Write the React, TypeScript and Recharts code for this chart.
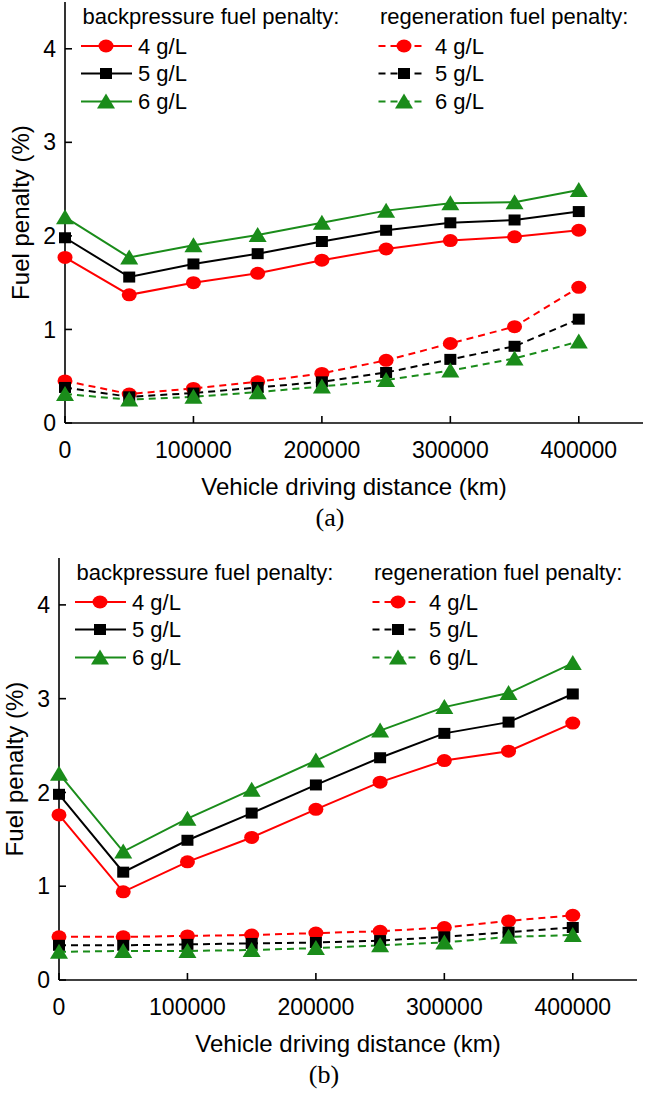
import React from "react";
import { LineChart, Line, XAxis, YAxis, Legend, Label } from "recharts";

// driving distance (km)
const distance = [0, 50000, 100000, 150000, 200000, 250000, 300000, 350000, 400000];

// panel (a): backpressure fuel penalty (%)
const backA4 = [1.77, 1.37, 1.5, 1.6, 1.74, 1.86, 1.95, 1.99, 2.06];
const backA5 = [1.98, 1.56, 1.7, 1.81, 1.94, 2.06, 2.14, 2.17, 2.26];
const backA6 = [2.2, 1.77, 1.9, 2.01, 2.14, 2.27, 2.35, 2.36, 2.49];
// panel (a): regeneration fuel penalty (%)
const regenA4 = [0.45, 0.31, 0.37, 0.44, 0.53, 0.67, 0.85, 1.03, 1.45];
const regenA5 = [0.38, 0.28, 0.32, 0.38, 0.44, 0.54, 0.68, 0.82, 1.11];
const regenA6 = [0.31, 0.25, 0.28, 0.33, 0.39, 0.46, 0.56, 0.69, 0.87];

// panel (b): backpressure fuel penalty (%)
const backB4 = [1.76, 0.94, 1.26, 1.52, 1.82, 2.11, 2.34, 2.44, 2.74];
const backB5 = [1.98, 1.15, 1.49, 1.78, 2.08, 2.37, 2.63, 2.75, 3.05];
const backB6 = [2.2, 1.37, 1.72, 2.03, 2.34, 2.66, 2.91, 3.06, 3.38];
// panel (b): regeneration fuel penalty (%)
const regenB4 = [0.46, 0.46, 0.47, 0.48, 0.5, 0.52, 0.56, 0.63, 0.69];
const regenB5 = [0.37, 0.37, 0.38, 0.39, 0.4, 0.42, 0.46, 0.51, 0.56];
const regenB6 = [0.3, 0.31, 0.31, 0.32, 0.34, 0.37, 0.4, 0.46, 0.48];

const loadings = ["4 g/L", "5 g/L", "6 g/L"];
const xMajor = [0, 100000, 200000, 300000, 400000];
const xMinor = [50000, 150000, 250000, 350000];
const yMajor = [0, 1, 2, 3, 4];
const yMinor = [0.5, 1.5, 2.5, 3.5];

const RED = "#ff0000";
const BLACK = "#000000";
const GREEN = "#1a8c1a";
const SANS = "'Liberation Sans', Arial, sans-serif";

type Shape = "circle" | "square" | "triangle";

const series: { key: string; color: string; shape: Shape; dashed: boolean }[] = [
  { key: "b4", color: RED, shape: "circle", dashed: false },
  { key: "b5", color: BLACK, shape: "square", dashed: false },
  { key: "b6", color: GREEN, shape: "triangle", dashed: false },
  { key: "r4", color: RED, shape: "circle", dashed: true },
  { key: "r5", color: BLACK, shape: "square", dashed: true },
  { key: "r6", color: GREEN, shape: "triangle", dashed: true },
];

function buildRows(cols: number[][]) {
  return distance.map((d, i) => ({
    d,
    b4: cols[0][i],
    b5: cols[1][i],
    b6: cols[2][i],
    r4: cols[3][i],
    r5: cols[4][i],
    r6: cols[5][i],
  }));
}

const rowsA = buildRows([backA4, backA5, backA6, regenA4, regenA5, regenA6]);
const rowsB = buildRows([backB4, backB5, backB6, regenB4, regenB5, regenB6]);

function Marker({ cx, cy, shape, color }: { cx: number; cy: number; shape: Shape; color: string }) {
  if (cx == null || cy == null) return null;
  if (shape === "circle") return <ellipse cx={cx} cy={cy} rx={7.5} ry={6.5} fill={color} />;
  if (shape === "square") return <rect x={cx - 6} y={cy - 5.5} width={12} height={11} fill={color} />;
  return <polygon points={`${cx - 9},${cy + 7} ${cx + 9},${cy + 7} ${cx},${cy - 8}`} fill={color} />;
}

function LegendBox({ plotLeft, plotTop }: { plotLeft: number; plotTop: number }) {
  const rowsY = [44, 71.5, 99.5].map((v) => v + plotTop);
  const cols = [
    { title: "backpressure fuel penalty:", x0: 16, x1: 67, mx: 41, tx: 73, dashed: false },
    { title: "regeneration fuel penalty:", x0: 313.5, x1: 358, mx: 339, tx: 370, dashed: true },
  ];
  return (
    <svg width={645} height={150} style={{ display: "block" }}>
      {cols.map((c) => (
        <g key={c.title}>
          <text x={plotLeft + c.x0 + 1.5} y={plotTop + 14} fontSize={22} fontFamily={SANS} dominantBaseline="central">
            {c.title}
          </text>
          {loadings.map((l, i) => {
            const s = series[i + (c.dashed ? 3 : 0)];
            return (
              <g key={l}>
                <line
                  x1={plotLeft + c.x0}
                  x2={plotLeft + c.x1}
                  y1={rowsY[i]}
                  y2={rowsY[i]}
                  stroke={s.color}
                  strokeWidth={2}
                  strokeDasharray={c.dashed ? "7 5" : undefined}
                />
                <Marker cx={plotLeft + c.mx} cy={rowsY[i]} shape={s.shape} color={s.color} />
                <text x={plotLeft + c.tx} y={rowsY[i]} fontSize={22} fontFamily={SANS} dominantBaseline="central">
                  {l}
                </text>
              </g>
            );
          })}
        </g>
      ))}
    </svg>
  );
}

interface PanelProps {
  rows: ReturnType<typeof buildRows>;
  letter: string;
  top: number;
  height: number;
  plotLeft: number;
  plotTop: number;
  marginRight: number;
  marginBottom: number;
}

function Panel({ rows, letter, top, height, plotLeft, plotTop, marginRight, marginBottom }: PanelProps) {
  const width = 645;
  const xAxisHeight = 60;
  const plotWidth = width - plotLeft - marginRight;
  const plotBottom = height - marginBottom - xAxisHeight;
  const plotMidY = (plotTop + plotBottom) / 2;
  const axisStyle = { stroke: BLACK, strokeWidth: 1.6 };
  const tickFont = { fontSize: 23, fontFamily: SANS, fill: BLACK };

  return (
    <div style={{ position: "absolute", top, left: 0, width, height }}>
      <LineChart
        width={width}
        height={height}
        data={rows}
        margin={{ top: plotTop, right: marginRight, left: 0, bottom: marginBottom }}
      >
        {/* minor ticks first so they sit on the plot edge */}
        <XAxis xAxisId="minor" dataKey="d" type="number" domain={[0, 450000]} ticks={xMinor} height={0}
          tick={false} axisLine={false} tickLine={axisStyle} tickSize={-4} />
        <YAxis yAxisId="minor" type="number" domain={[0, 4.5]} ticks={yMinor} width={0}
          tick={false} axisLine={false} tickLine={axisStyle} tickSize={-4} />
        <XAxis
          dataKey="d"
          type="number"
          domain={[0, 450000]}
          ticks={xMajor}
          height={xAxisHeight}
          tick={tickFont}
          tickLine={axisStyle}
          axisLine={axisStyle}
          tickSize={-7}
          tickMargin={26}
        >
          <Label
            content={() => (
              <text x={plotLeft + plotWidth / 2} y={plotBottom + 63} textAnchor="middle"
                dominantBaseline="central" fontSize={24} fontFamily={SANS}>
                Vehicle driving distance (km)
              </text>
            )}
          />
        </XAxis>
        <YAxis
          type="number"
          domain={[0, 4.5]}
          ticks={yMajor}
          width={plotLeft}
          tick={tickFont}
          tickLine={axisStyle}
          axisLine={axisStyle}
          tickSize={-7}
          tickMargin={16}
        >
          <Label
            content={() => (
              <text x={plotLeft - 45} y={plotMidY} textAnchor="middle" dominantBaseline="central"
                fontSize={24} fontFamily={SANS} transform={`rotate(-90 ${plotLeft - 45} ${plotMidY})`}>
                Fuel penalty (%)
              </text>
            )}
          />
        </YAxis>
        <XAxis xAxisId="top" orientation="top" type="number" domain={[0, 450000]} height={0}
          tick={false} tickLine={false} axisLine={axisStyle} />
        <YAxis yAxisId="right" orientation="right" type="number" domain={[0, 4.5]} width={0}
          tick={false} tickLine={false} axisLine={axisStyle} />
        {series.map((s) => (
          <Line
            key={s.key}
            dataKey={s.key}
            type="linear"
            stroke={s.color}
            strokeWidth={2}
            strokeDasharray={s.dashed ? "7 5" : undefined}
            isAnimationActive={false}
            activeDot={false}
            dot={(p: any) => (
              <Marker key={`${s.key}-${p.index}`} cx={p.cx} cy={p.cy} shape={s.shape} color={s.color} />
            )}
          />
        ))}
        <Legend
          layout="horizontal"
          verticalAlign="middle"
          align="center"
          wrapperStyle={{ position: "absolute", top: 0, left: 0, width: 645, height: 150 }}
          content={() => <LegendBox plotLeft={plotLeft} plotTop={plotTop} />}
        />
      </LineChart>
      <div
        style={{
          position: "absolute",
          left: plotLeft + 265 - 30,
          width: 60,
          top: plotBottom + 95 - 16,
          height: 32,
          lineHeight: "32px",
          textAlign: "center",
          fontFamily: "'Liberation Serif', 'Times New Roman', serif",
          fontSize: 26,
        }}
      >
        {letter}
      </div>
    </div>
  );
}

export default function App() {
  return (
    <div style={{ position: "absolute", top: 0, left: 0, width: 645, height: 1096, background: "#fff" }}>
      <Panel rows={rowsA} letter="(a)" top={0} height={545} plotLeft={65} plotTop={2} marginRight={2} marginBottom={62} />
      <Panel rows={rowsB} letter="(b)" top={545} height={551} plotLeft={59} plotTop={13} marginRight={8} marginBottom={56} />
    </div>
  );
}
